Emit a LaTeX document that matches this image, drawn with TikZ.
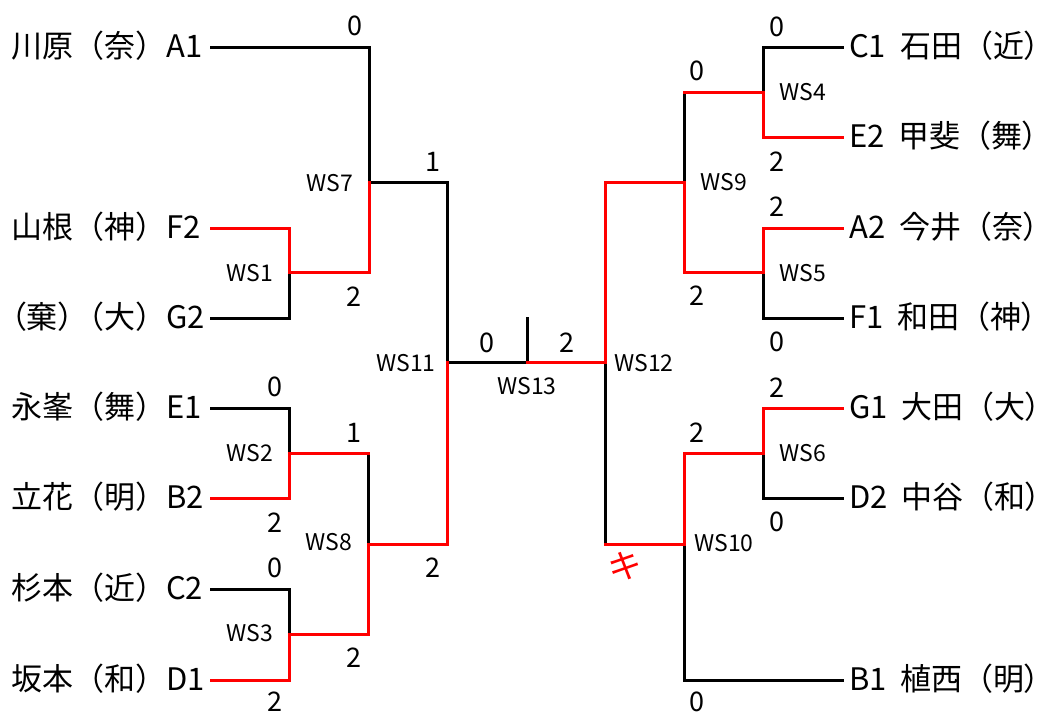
\documentclass[tikz,border=0pt]{standalone}
\usepackage{fontspec}
\setmainfont{Noto Sans CJK JP}
\newfontfamily\paltfont[RawFeature=+palt]{Noto Sans CJK JP}
\definecolor{wred}{RGB}{255,0,0}
\begin{document}
\begin{tikzpicture}[x=1pt,y=-1pt,
  seg/.style={line width=3pt, line cap=rect, line join=miter},
  blk/.style={seg, black},
  win/.style={seg, wred},
  player/.style={inner sep=0pt, font=\fontsize{31}{31}\selectfont},
  rplayer/.style={player, anchor=base west},
  lplayer/.style={player, anchor=base west},
  score/.style={inner sep=0pt, font=\fontsize{27}{27}\selectfont},
  wslabel/.style={inner sep=0pt, font=\fontsize{23}{23}\selectfont}]
\useasboundingbox (0,0) rectangle (1042,713);

% ---- left side coordinates
\coordinate (A1e) at (211,47);
\coordinate (F2e) at (211,228);
\coordinate (G2e) at (211,318);
\coordinate (E1e) at (211,408);
\coordinate (B2e) at (211,498);
\coordinate (C2e) at (211,589);
\coordinate (D1e) at (211,680);
\coordinate (W1t) at (289,228);
\coordinate (W1)  at (289,272);
\coordinate (W1b) at (289,318);
\coordinate (W2t) at (289,408);
\coordinate (W2)  at (289,453);
\coordinate (W2b) at (289,498);
\coordinate (W3t) at (289,589);
\coordinate (W3)  at (289,634);
\coordinate (W3b) at (289,680);
\coordinate (W7t) at (369,47);
\coordinate (W7)  at (369,182);
\coordinate (W7b) at (369,272);
\coordinate (W8t) at (368,453);
\coordinate (W8)  at (368,544);
\coordinate (W8b) at (368,634);
\coordinate (W11t) at (447,182);
\coordinate (W11)  at (447,362);
\coordinate (W11b) at (447,544);
\coordinate (W13)  at (527,362);
\coordinate (W13t) at (527,318);
% ---- right side coordinates
\coordinate (W12)  at (605,362);
\coordinate (W12t) at (605,182);
\coordinate (W12b) at (605,544);
\coordinate (W9)  at (684,182);
\coordinate (W9a) at (684,92);
\coordinate (W9b) at (684,272);
\coordinate (W10)  at (684,544);
\coordinate (W10a) at (684,453);
\coordinate (W10b) at (684,680);
\coordinate (W4)  at (763,92);
\coordinate (W4a) at (763,47);
\coordinate (W4b) at (763,137);
\coordinate (W5)  at (763,272);
\coordinate (W5a) at (763,228);
\coordinate (W5b) at (763,318);
\coordinate (W6)  at (763,453);
\coordinate (W6a) at (763,408);
\coordinate (W6b) at (763,498);
\coordinate (C1e) at (842,47);
\coordinate (E2e) at (842,137);
\coordinate (A2e) at (842,228);
\coordinate (F1e) at (842,318);
\coordinate (G1e) at (842,408);
\coordinate (D2e) at (842,498);
\coordinate (B1e) at (842,680);

% ---- black lines
\draw[blk] (A1e) -- (W7t) -- (W7);
\draw[blk] (W7) -- (W11t) -- (W11);
\draw[blk] (G2e) -- (W1b) -- (W1);
\draw[blk] (E1e) -- (W2t) -- (W2);
\draw[blk] (W8t) -- (W8);
\draw[blk] (C2e) -- (W3t) -- (W3);
\draw[blk] (W11) -- (W13);
\draw[blk] (W13t) -- (W13);
\draw[blk] (W12) -- (W12b);
\draw[blk] (W9a) -- (W9);
\draw[blk] (C1e) -- (W4a) -- (W4);
\draw[blk] (W5) -- (W5b) -- (F1e);
\draw[blk] (W10) -- (W10b) -- (B1e);
\draw[blk] (W6) -- (W6b) -- (D2e);

% ---- red (winner) lines
\draw[win] (F2e) -- (W1t) -- (W1) -- (W7b) -- (W7);
\draw[win] (B2e) -- (W2b) -- (W2) -- (W8t);
\draw[win] (D1e) -- (W3b) -- (W3) -- (W8b) -- (W8) -- (W11b) -- (W11);
\draw[win] (W13) -- (W12) -- (W12t) -- (W9) -- (W9b) -- (W5) -- (W5a) -- (A2e);
\draw[win] (W9a) -- (W4) -- (W4b) -- (E2e);
\draw[win] (W12b) -- (W10) -- (W10a) -- (W6) -- (W6a) -- (G1e);

% ---- names
\node[lplayer] (nA1) at (11,57.5) {川原（奈）A1};
\node[lplayer] (nF2) at (11,238.5) {山根（神）F2};
\node[lplayer] (nG2) at (11,328.5) {{\paltfont（}棄）\hspace{-0.5em}（大）G2};
\node[lplayer] (nE1) at (11,418.5) {永峯（舞）E1};
\node[lplayer] (nB2) at (11,508.5) {立花（明）B2};
\node[lplayer] (nC2) at (11,599.5) {杉本（近）C2};
\node[lplayer] (nD1) at (11,690.5) {坂本（和）D1};

\node[rplayer] (nC1) at (849,57.5) {C1\hspace{0.45em}石田（近{\paltfont ）}};
\node[rplayer] (nE2) at (849,147.5) {E2\hspace{0.45em}甲斐（舞{\paltfont ）}};
\node[rplayer] (nA2) at (849,238.5) {A2\hspace{0.45em}今井（奈{\paltfont ）}};
\node[rplayer] (nF1) at (849,328.5) {F1\hspace{0.45em}和田（神{\paltfont ）}};
\node[rplayer] (nG1) at (849,418.5) {G1\hspace{0.45em}大田（大{\paltfont ）}};
\node[rplayer] (nD2) at (849,508.5) {D2\hspace{0.45em}中谷（和{\paltfont ）}};
\node[rplayer] (nB1) at (849,690.5) {B1\hspace{0.45em}植西（明{\paltfont ）}};

% ---- scores
\node[score] (s1)  at (355,26)  {0};
\node[score] (s2)  at (433,162) {1};
\node[score] (s3)  at (354,297) {2};
\node[score] (s4)  at (275,387) {0};
\node[score] (s5)  at (354,433) {1};
\node[score] (s6)  at (275,523) {2};
\node[score] (s7)  at (433,568) {2};
\node[score] (s8)  at (275,568) {0};
\node[score] (s9)  at (354,658) {2};
\node[score] (s10) at (275,702) {2};
\node[score] (s11) at (487,343) {0};
\node[score] (s12) at (567,343) {2};
\node[score] (s13) at (777,27)  {0};
\node[score] (s14) at (697,71)  {0};
\node[score] (s15) at (777,162) {2};
\node[score] (s16) at (777,207) {2};
\node[score] (s17) at (697,296) {2};
\node[score] (s18) at (777,342) {0};
\node[score] (s19) at (777,388) {2};
\node[score] (s20) at (697,433) {2};
\node[score] (s21) at (777,522) {0};
\node[score] (s22) at (697,702) {0};

% ---- match labels
\node[wslabel] (l7)  at (330,183) {WS7};
\node[wslabel] (l1)  at (250,273) {WS1};
\node[wslabel] (l11) at (406,363) {WS11};
\node[wslabel] (l2)  at (250,453) {WS2};
\node[wslabel] (l8)  at (329,542) {WS8};
\node[wslabel] (l3)  at (250,633) {WS3};
\node[wslabel] (l13) at (527,386) {WS13};
\node[wslabel] (l12) at (644,363) {WS12};
\node[wslabel] (l9)  at (724,182) {WS9};
\node[wslabel] (l4)  at (803,92)  {WS4};
\node[wslabel] (l5)  at (803,273) {WS5};
\node[wslabel] (l6)  at (803,453) {WS6};
\node[wslabel] (l10) at (724,543) {WS10};
\node[inner sep=0pt, font=\fontsize{34}{34}\selectfont, text=wred, rotate=10] (ki) at (625,566) {キ};
\end{tikzpicture}
\end{document}
